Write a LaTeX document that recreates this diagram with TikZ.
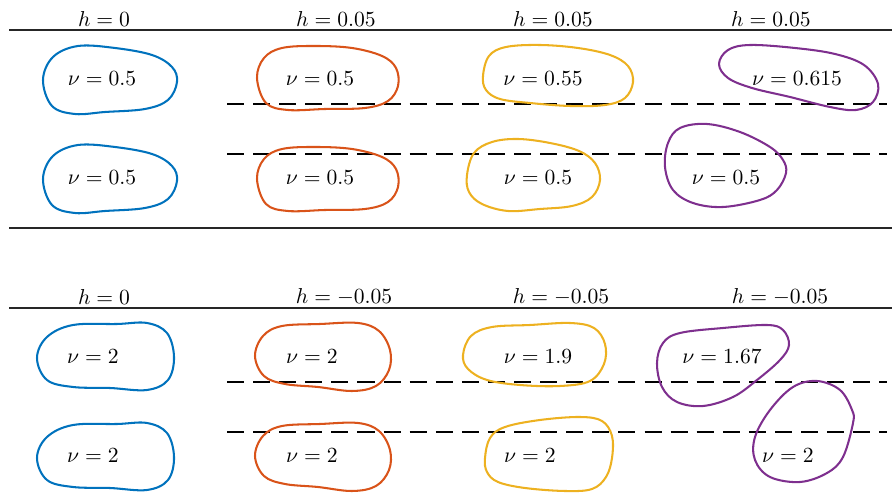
\documentclass[tikz,border=0pt]{standalone}
\usepackage{amsmath,amssymb}
\usetikzlibrary{arrows.meta}

\definecolor{mblue}{rgb}{0,0.447,0.741}
\definecolor{morange}{rgb}{0.85,0.325,0.098}
\definecolor{myellow}{rgb}{0.929,0.694,0.125}
\definecolor{mpurple}{rgb}{0.494,0.184,0.556}

\begin{document}
\begin{tikzpicture}[x=0.0163cm, y=-0.0163cm,
  outline/.style={line width=0.95pt, line join=round},
  gapline/.style={line width=0.5pt, dash pattern=on 7.9pt off 4.2pt},
  rule/.style={line width=0.6pt, black!85}]

\useasboundingbox (0,0) rectangle (894,503);

% upper panel (h >= 0)
\node (ha0) at (104,19) {$h = 0$};
\node (ha1) at (336,19) {$h = 0.05$};
\node (ha2) at (553,19) {$h = 0.05$};
\node (ha3) at (771,19) {$h = 0.05$};
\draw[rule] (9,30) -- (892,30);
\draw[rule] (9,228) -- (892,228);

\draw[gapline] (227,104) -- (887,104);
\draw[gapline] (227,154) -- (887,154);

% h = 0
\draw[outline, mblue] plot[smooth cycle, tension=0.6] coordinates {(43,80) (53,57) (78,46) (115,48) (152,55) (172,67) (177,82) (168,100) (145,109) (105,112) (75,114) (52,106)};
\draw[outline, mblue, shift={(0,99)}] plot[smooth cycle, tension=0.6] coordinates {(43,80) (53,57) (78,46) (115,48) (152,55) (172,67) (177,82) (168,100) (145,109) (105,112) (75,114) (52,106)};
\node (a1) at (102,79) {$\nu = 0.5$};
\node (a2) at (102,178) {$\nu = 0.5$};

% h = 0.05, first
\draw[outline, morange] plot[smooth cycle, tension=0.6] coordinates {(257,78) (264,58) (282,48) (315,46) (352,48) (382,56) (396,68) (398,86) (388,101) (365,108) (325,109) (288,110) (266,103)};
\draw[outline, morange, shift={(0,101)}] plot[smooth cycle, tension=0.6] coordinates {(257,78) (264,58) (282,48) (315,46) (352,48) (382,56) (396,68) (398,86) (388,101) (365,108) (325,109) (288,110) (266,103)};
\node (b1) at (320,79) {$\nu = 0.5$};
\node (b2) at (320,178) {$\nu = 0.5$};

% h = 0.05, second
\draw[outline, myellow] plot[smooth cycle, tension=0.6] coordinates {(483,76) (489,56) (506,47) (540,45) (578,48) (610,55) (628,66) (633,82) (625,98) (605,105) (570,106) (530,103) (500,99) (486,90)};
\draw[outline, myellow] plot[smooth cycle, tension=0.6] coordinates {(467,175) (474,153) (492,142) (518,139) (550,143) (579,151) (595,163) (600,180) (592,197) (572,206) (540,209) (508,211) (482,204) (469,192)};
\node (c1) at (543,79) {$\nu = 0.55$};
\node (c2) at (538,178) {$\nu = 0.5$};

% h = 0.05, third
\draw[outline, mpurple] plot[smooth cycle, tension=0.6] coordinates {(719,64) (728,50) (750,45) (795,48) (835,54) (864,65) (878,84) (873,102) (856,110) (830,107) (790,97) (752,88) (728,78)};
\draw[outline, mpurple] plot[smooth cycle, tension=0.6] coordinates {(707,124) (740,132) (770,147) (783,160) (786,173) (777,190) (760,200) (723,207) (693,203) (673,190) (665,167) (668,143) (680,128)};
\node (d1) at (797,79) {$\nu = 0.615$};
\node (d2) at (726,178) {$\nu = 0.5$};

% lower panel (h <= 0)
\node (hb0) at (104,297) {$h = 0$};
\node (hb1) at (344,297) {$h = -0.05$};
\node (hb2) at (561,297) {$h = -0.05$};
\node (hb3) at (780,297) {$h = -0.05$};
\draw[rule] (9,308) -- (892,308);

\draw[gapline] (227,382) -- (887,382);
\draw[gapline] (227,432) -- (887,432);

% h = 0
\draw[outline, mblue] plot[smooth cycle, tension=0.6] coordinates {(37,358) (47,337) (73,325) (117,324) (147,323) (167,333) (174,357) (168,380) (147,390) (110,388) (73,387) (47,380)};
\draw[outline, mblue, shift={(0,100)}] plot[smooth cycle, tension=0.6] coordinates {(37,358) (47,337) (73,325) (117,324) (147,323) (167,333) (174,357) (168,380) (147,390) (110,388) (73,387) (47,380)};
\node (e1) at (93,357) {$\nu = 2$};
\node (e2) at (93,456) {$\nu = 2$};

% h = -0.05, first
\draw[outline, morange] plot[smooth cycle, tension=0.6] coordinates {(255,356) (263,336) (282,326) (320,324) (358,323) (379,331) (390,350) (389,370) (376,386) (352,391) (318,387) (285,384) (264,376)};
\draw[outline, morange, shift={(0,100)}] plot[smooth cycle, tension=0.6] coordinates {(255,356) (263,336) (282,326) (320,324) (358,323) (379,331) (390,350) (389,370) (376,386) (352,391) (318,387) (285,384) (264,376)};
\node (f1) at (312,357) {$\nu = 2$};
\node (f2) at (312,456) {$\nu = 2$};

% h = -0.05, second
\draw[outline, myellow] plot[smooth cycle, tension=0.6] coordinates {(463,355) (471,336) (492,327) (530,325) (570,323) (594,328) (605,344) (604,364) (590,381) (560,386) (520,385) (487,380) (468,369)};
\draw[outline, myellow] plot[smooth cycle, tension=0.6] coordinates {(485,458) (490,438) (505,427) (540,420) (580,417) (602,421) (612,436) (612,458) (606,477) (592,489) (565,491) (525,488) (498,482) (487,472)};
\node (g1) at (538,357) {$\nu = 1.9$};
\node (g2) at (530,456) {$\nu = 2$};

% h = -0.05, third
\draw[outline, mpurple] plot[smooth cycle, tension=0.6] coordinates {(657,363) (663,343) (680,333) (723,328) (767,325) (783,330) (789,345) (780,360) (757,380) (733,397) (703,406) (677,402) (662,387)};
\draw[outline, mpurple] plot[smooth cycle, tension=0.6] coordinates {(817,381) (840,390) (852,410) (853,423) (843,457) (827,473) (800,482) (770,477) (755,460) (755,437) (770,410) (793,387)};
\node (k1) at (722,357) {$\nu = 1.67$};
\node (k2) at (788,456) {$\nu = 2$};

\end{tikzpicture}
\end{document}
